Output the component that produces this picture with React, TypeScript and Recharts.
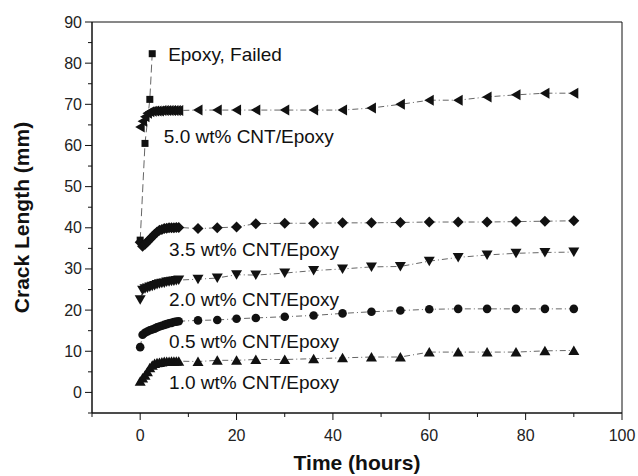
import React from "react";
import {
  ScatterChart,
  Scatter,
  XAxis,
  YAxis,
  ReferenceArea,
  ReferenceDot,
  Label,
} from "recharts";

const FONT = "'Liberation Sans', Arial, sans-serif";

// sampling times (hours)
const hours = [
  0, 0.5, 1, 1.5, 2, 2.5, 3, 3.5, 4, 4.5, 5, 5.5, 6, 6.5, 7, 7.5, 8,
  12, 16, 20, 24, 30, 36, 42, 48, 54, 60, 66, 72, 78, 84, 90,
];

// crack length (mm) per specimen
const cnt10 = [
  2.7, 3.5, 4.2, 5.0, 6.0, 6.6, 7.0, 7.2, 7.3, 7.4, 7.5, 7.5, 7.5, 7.6, 7.6, 7.6, 7.6,
  7.5, 7.8, 7.8, 8.0, 8.0, 8.2, 8.4, 8.6, 8.6, 9.8, 9.8, 9.8, 9.8, 10.1, 10.2,
];
const cnt05 = [
  11.0, 14.0, 14.5, 14.8, 15.1, 15.3, 15.5, 15.8, 16.0, 16.2, 16.4, 16.6, 16.8, 16.9, 17.1, 17.2, 17.3,
  17.5, 17.6, 17.9, 18.1, 18.4, 18.7, 19.2, 19.6, 19.9, 20.2, 20.3, 20.3, 20.3, 20.3, 20.3,
];
const cnt20 = [
  22.5, 24.8, 25.2, 25.4, 25.6, 25.8, 26.0, 26.2, 26.4, 26.5, 26.6, 26.8, 26.9, 27.0, 27.1, 27.2, 27.3,
  27.5, 27.8, 28.6, 28.5, 29.0, 29.6, 30.0, 30.5, 30.6, 31.9, 32.8, 33.4, 33.8, 34.0, 34.1,
];
const cnt35 = [
  36.5, 35.5, 36.0, 36.6, 37.2, 37.8, 38.4, 39.0, 39.4, 39.6, 39.8, 39.9, 40.0, 40.0, 40.0, 40.1, 40.1,
  39.8, 40.0, 40.2, 41.0, 41.1, 41.1, 41.2, 41.2, 41.3, 41.4, 41.4, 41.4, 41.5, 41.6, 41.7,
];
const cnt50 = [
  64.5, 65.9, 67.0, 67.8, 68.2, 68.3, 68.4, 68.4, 68.4, 68.5, 68.5, 68.5, 68.5, 68.5, 68.5, 68.5, 68.5,
  68.6, 68.6, 68.6, 68.6, 68.6, 68.6, 68.6, 69.1, 70.0, 71.0, 71.0, 71.8, 72.3, 72.7, 72.7,
];

const epoxyHours = [0, 1, 2, 2.5];
const epoxy = [37.0, 60.5, 71.2, 82.3];

const xTicks = [-10, 0, 10, 20, 30, 40, 50, 60, 70, 80, 90, 100];
const yTicks = [-5, 0, 5, 10, 15, 20, 25, 30, 35, 40, 45, 50, 55, 60, 65, 70, 75, 80, 85, 90];

const annotations = [
  { x: 5.8, y: 82.2, text: "Epoxy, Failed" },
  { x: 4.9, y: 62.2, text: "5.0 wt% CNT/Epoxy" },
  { x: 6.0, y: 34.7, text: "3.5 wt% CNT/Epoxy" },
  { x: 6.0, y: 22.6, text: "2.0 wt% CNT/Epoxy" },
  { x: 6.0, y: 12.5, text: "0.5 wt% CNT/Epoxy" },
  { x: 6.0, y: 2.4, text: "1.0 wt% CNT/Epoxy" },
];

const zip = (xs: number[], ys: number[]) => xs.map((x, i) => ({ x, y: ys[i] }));

const INK = "#111";

const squareShape = ({ cx, cy }: any) => (
  <rect x={cx - 3.5} y={cy - 3.5} width={7} height={7} fill={INK} />
);
const circleShape = ({ cx, cy }: any) => <circle cx={cx} cy={cy} r={4.3} fill={INK} />;
const upShape = ({ cx, cy }: any) => (
  <polygon points={`${cx},${cy - 5} ${cx + 5.5},${cy + 4.5} ${cx - 5.5},${cy + 4.5}`} fill={INK} />
);
const downShape = ({ cx, cy }: any) => (
  <polygon points={`${cx - 5.5},${cy - 4.5} ${cx + 5.5},${cy - 4.5} ${cx},${cy + 5}`} fill={INK} />
);
const leftShape = ({ cx, cy }: any) => (
  <polygon points={`${cx - 5},${cy} ${cx + 4.5},${cy - 5.5} ${cx + 4.5},${cy + 5.5}`} fill={INK} />
);
const diamondShape = ({ cx, cy }: any) => (
  <polygon points={`${cx},${cy - 5.5} ${cx + 5.5},${cy} ${cx},${cy + 5.5} ${cx - 5.5},${cy}`} fill={INK} />
);

const YTick = ({ x, y, payload }: any) => {
  const major = payload.value % 10 === 0;
  return (
    <g>
      <line x1={x} x2={x - (major ? 7 : 4)} y1={y} y2={y} stroke={INK} />
      {major && (
        <text x={x - 10} y={y} textAnchor="end" dominantBaseline="central" fontSize={16} fill="#222" fontFamily={FONT}>
          {payload.value}
        </text>
      )}
    </g>
  );
};

const XTick = ({ x, y, payload }: any) => {
  const major = payload.value % 20 === 0;
  return (
    <g>
      <line x1={x} x2={x} y1={y} y2={y + (major ? 7 : 4)} stroke={INK} />
      {major && (
        <text x={x} y={y + 28} textAnchor="middle" fontSize={16} fill="#222" fontFamily={FONT}>
          {payload.value}
        </text>
      )}
    </g>
  );
};

const lineStyle = { stroke: "#666", strokeWidth: 1, strokeDasharray: "6 3 1 3" };

export default function App() {
  return (
    <div style={{ position: "absolute", left: 0, top: 0, background: "#fff" }}>
      <ScatterChart width={638} height={476} margin={{ top: 22, right: 16, left: 0, bottom: 6 }}>
        <XAxis
          type="number"
          dataKey="x"
          domain={[-10, 100]}
          ticks={xTicks}
          interval={0}
          allowDataOverflow
          tickSize={0}
          tickMargin={0}
          tickLine={false}
          tick={<XTick />}
          axisLine={{ stroke: INK }}
          height={57}
        >
          <Label
            value="Time (hours)"
            position="insideBottom"
            offset={0}
            style={{ fontFamily: FONT, fontWeight: "bold", fontSize: 21, fill: "#111" }}
          />
        </XAxis>
        <YAxis
          type="number"
          dataKey="y"
          domain={[-5, 90]}
          ticks={yTicks}
          interval={0}
          allowDataOverflow
          tickSize={0}
          tickMargin={0}
          tickLine={false}
          tick={<YTick />}
          axisLine={{ stroke: INK }}
          width={92}
        >
          <Label
            value="Crack Length (mm)"
            angle={-90}
            position="insideLeft"
            offset={22}
            style={{ fontFamily: FONT, fontWeight: "bold", fontSize: 21, fill: "#111", textAnchor: "middle" }}
          />
        </YAxis>
        <ReferenceArea x1={-10} x2={100} y1={-5} y2={90} fill="none" stroke={INK} strokeWidth={1} />
        <Scatter data={zip(epoxyHours, epoxy)} shape={squareShape} line={{ ...lineStyle, strokeDasharray: "8 4" }} lineType="joint" isAnimationActive={false} />
        <Scatter data={zip(hours, cnt50)} shape={leftShape} line={lineStyle} lineType="joint" isAnimationActive={false} />
        <Scatter data={zip(hours, cnt35)} shape={diamondShape} line={lineStyle} lineType="joint" isAnimationActive={false} />
        <Scatter data={zip(hours, cnt20)} shape={downShape} line={lineStyle} lineType="joint" isAnimationActive={false} />
        <Scatter data={zip(hours, cnt05)} shape={circleShape} line={lineStyle} lineType="joint" isAnimationActive={false} />
        <Scatter data={zip(hours, cnt10)} shape={upShape} line={lineStyle} lineType="joint" isAnimationActive={false} />
        {annotations.map((a) => (
          <ReferenceDot key={a.text} x={a.x} y={a.y} r={0} fill="none" stroke="none">
            <Label
              value={a.text}
              position="right"
              offset={0}
              style={{ fontFamily: FONT, fontSize: 19, fill: "#111" }}
            />
          </ReferenceDot>
        ))}
      </ScatterChart>
    </div>
  );
}
